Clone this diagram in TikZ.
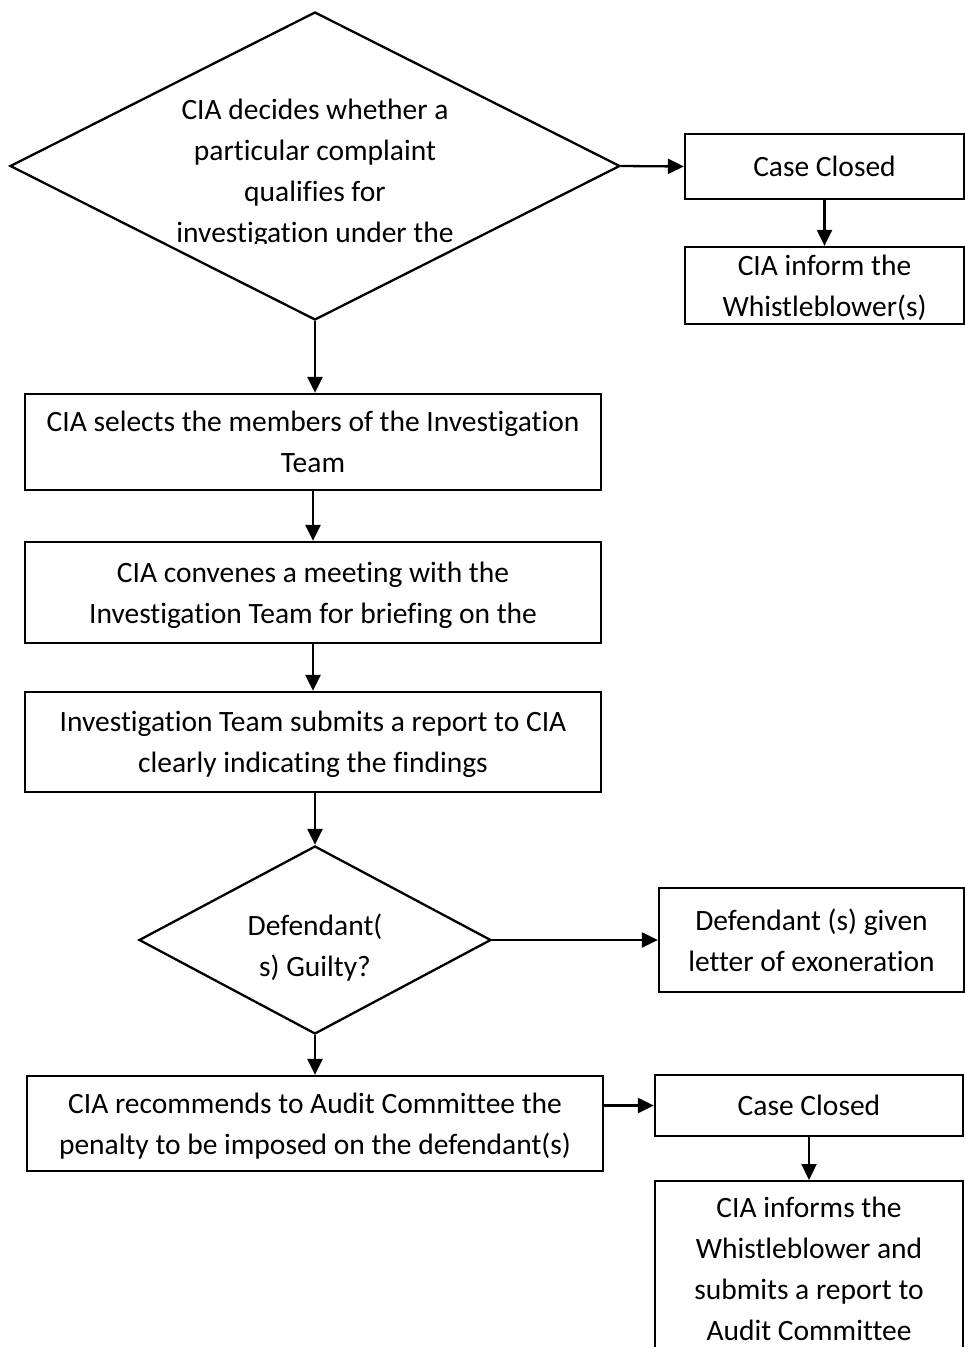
\documentclass[tikz,border=0pt]{standalone}
\usepackage{fontspec}
\setmainfont{Carlito}[Ligatures=NoCommon]
\usetikzlibrary{shapes.geometric,arrows.meta}

\begin{document}
\begin{tikzpicture}[x=1pt,y=-1pt,
  every node/.style={font=\fontsize{29.5pt}{41pt}\selectfont},
  stepbox/.style={draw,line width=2.3pt,inner sep=0pt,align=center,text depth=-3pt},
  decision/.style={draw,diamond,line width=2.3pt,inner sep=0pt},
  flow/.style={line width=2.3pt,-{Triangle[length=16pt,width=15pt]}}]
\useasboundingbox (0,0) rectangle (965,1347);

% first decision
\node[decision,minimum width=610pt,minimum height=308pt] (qualify) at (315,166) {};
\begin{scope}
  \clip (0,0) rectangle (965,243);
  \node[align=center] (qualifytext) at (315,173) {CIA decides whether a\\particular complaint\\qualifies for\\investigation under the};
\end{scope}
\node[stepbox,minimum width=279pt,minimum height=65pt] (closedA) at (824.5,166.5) {Case Closed};
\node[stepbox,minimum width=279pt,minimum height=77pt] (informA) at (824.5,285.5) {CIA inform the\\Whistleblower(s)};

% investigation steps
\node[stepbox,minimum width=576pt,minimum height=96pt] (select) at (313,442) {CIA selects the members of the Investigation\\Team};
\node[stepbox,minimum width=576pt,minimum height=101pt] (convene) at (313,592.5) {CIA convenes a meeting with the\\Investigation Team for briefing on the};
\node[stepbox,minimum width=576pt,minimum height=100pt] (report) at (313,742) {Investigation Team submits a report to CIA\\clearly indicating the findings};

% second decision
\node[decision,minimum width=352pt,minimum height=188pt] (guilty) at (315,940) {};
\node[align=center] (guiltytext) at (315,948) {Defendant(\\s) Guilty?};
\node[stepbox,minimum width=305pt,minimum height=104pt] (exonerate) at (811.5,940) {Defendant (s) given\\letter of exoneration};

% penalty branch
\node[stepbox,minimum width=576pt,minimum height=95pt] (penalty) at (315,1123.5) {CIA recommends to Audit Committee the\\penalty to be imposed on the defendant(s)};
\node[stepbox,minimum width=308pt,minimum height=61pt] (closedB) at (809,1105.5) {Case Closed};
\node[stepbox,minimum width=308pt,minimum height=176pt,anchor=north] (informB) at (809,1180) {CIA informs the\\Whistleblower and\\submits a report to\\Audit Committee};

% connectors
\draw[flow] (qualify.east) -- (closedA.west);
\draw[flow] (closedA) -- (informA);
\draw[flow] (qualify.south) -- (qualify.south |- select.north);
\draw[flow] (select) -- (convene);
\draw[flow] (convene) -- (report);
\draw[flow] (report.south -| guilty.north) -- (guilty.north);
\draw[flow] (guilty.east) -- (exonerate.west);
\draw[flow] (guilty.south) -- (penalty.north);
\draw[flow] (penalty.east |- closedB.west) -- (closedB.west);
\draw[flow] (closedB) -- (informB);
\end{tikzpicture}
\end{document}
